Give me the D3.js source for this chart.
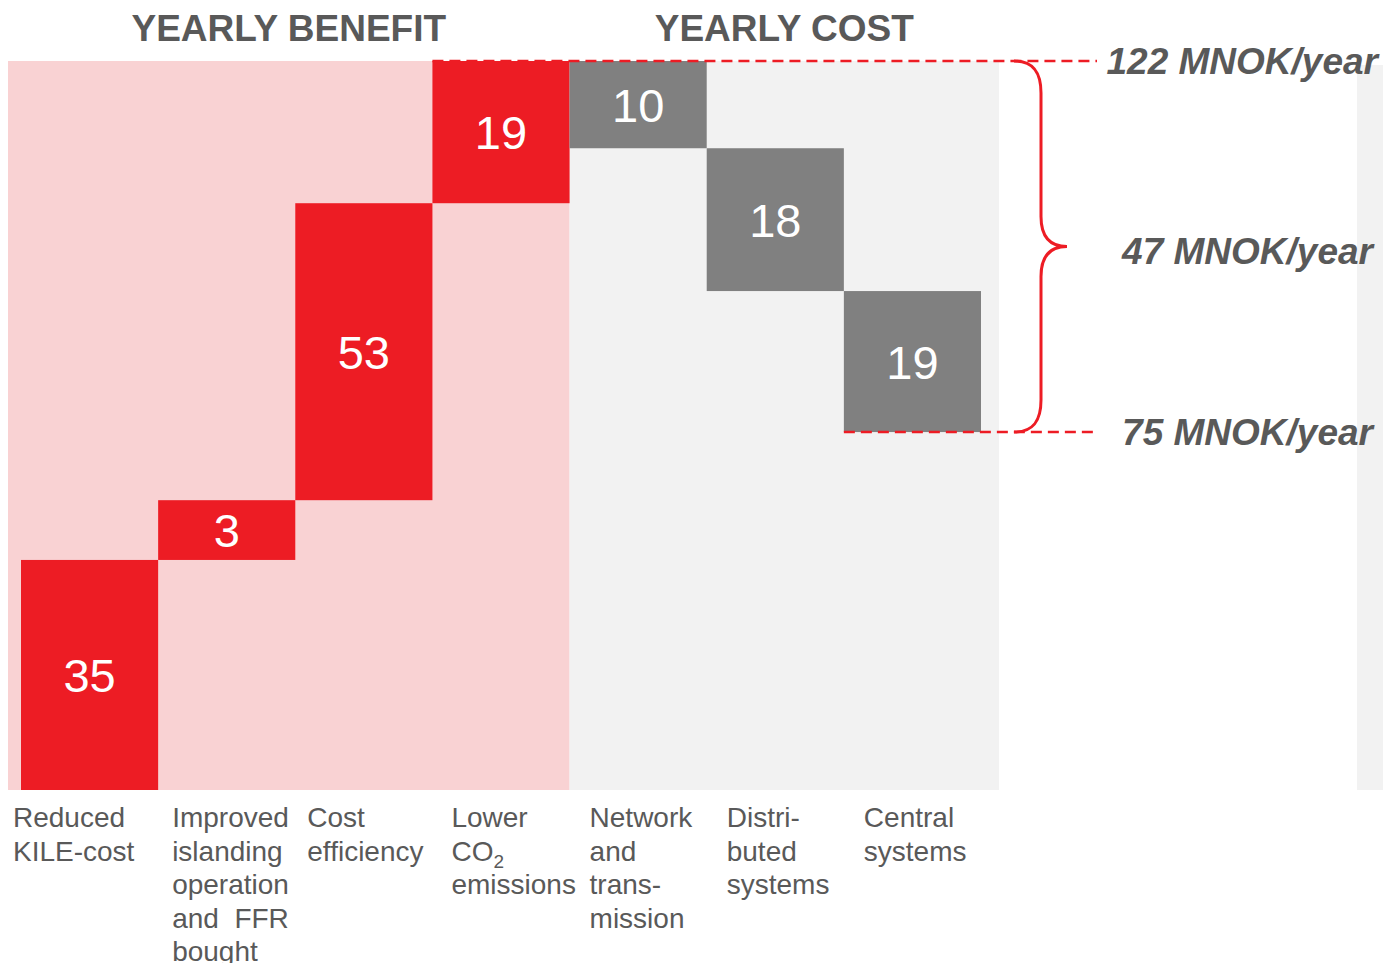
<!DOCTYPE html>
<html>
<head>
<meta charset="utf-8">
<script src="https://cdn.jsdelivr.net/npm/d3@7"></script>
<style>
  html, body { margin: 0; padding: 0; background: #ffffff; }
  svg { display: block; font-family: "Liberation Sans", Arial, sans-serif; }
</style>
</head>
<body>
<svg id="chart" width="1383" height="963"></svg>
<script>
// ---------------- data ----------------
const categories = ["Reduced KILE-cost", "Improved islanding operation and FFR bought",
  "Cost efficiency", "Lower CO2 emissions", "Network and transmission",
  "Distributed systems", "Central systems"];
const categoryLines = [
  ["Reduced", "KILE-cost"],
  ["Improved", "islanding", "operation", "and\u00a0\u00a0FFR", "bought"],
  ["Cost", "efficiency"],
  ["Lower", "CO|2", "emissions"],
  ["Network", "and", "trans-", "mission"],
  ["Distri-", "buted", "systems"],
  ["Central", "systems"]
];
const groups = ["benefit", "benefit", "benefit", "benefit", "cost", "cost", "cost"];
const valueLabels = [35, 3, 53, 19, 10, 18, 19];
// bar sizes as drawn in the (schematic) source graphic, in MNOK-scale units
const drawnSize = [38.5, 10.0, 49.7, 23.8, 14.6, 23.9, 23.6];
const sectionTitles = ["YEARLY BENEFIT", "YEARLY COST"];
const totalLabels = ["122 MNOK/year", "47 MNOK/year", "75 MNOK/year"];

// ---------------- layout ----------------
const W = 1383, H = 963;
const svg = d3.select("#chart");
const red = "#ed1c24", grey = "#808080", pink = "#f9d2d3", light = "#f2f2f2", txt = "#595959";

const x = d3.scaleBand().domain(categories).range([21, 981]).padding(0);

// waterfall levels
let lo = [], hi = [];
let acc = 0;
groups.forEach((g, i) => {
  if (g === "benefit") { lo[i] = acc; acc += drawnSize[i]; hi[i] = acc; }
});
const topLevel = acc;
groups.forEach((g, i) => {
  if (g === "cost") { hi[i] = acc; acc -= drawnSize[i]; lo[i] = acc; }
});
const bottomLevel = acc;

const y = d3.scaleLinear().domain([0, topLevel]).range([790, 61]);

const firstCost = groups.indexOf("cost");
const xBenefitStart = x(categories[0]) - 13;
const xCostStart = x(categories[firstCost]);
const xCostEnd = x(categories[categories.length - 1]) + x.bandwidth() + 18;

// backgrounds
svg.append("rect").attr("x", xBenefitStart).attr("y", y(topLevel))
  .attr("width", xCostStart - xBenefitStart).attr("height", y(0) - y(topLevel)).attr("fill", pink);
svg.append("rect").attr("x", xCostStart).attr("y", y(topLevel))
  .attr("width", xCostEnd - xCostStart).attr("height", y(0) - y(topLevel)).attr("fill", light);
svg.append("rect").attr("x", 1357).attr("y", 65).attr("width", 26).attr("height", y(0) - 65).attr("fill", light);

// bars
svg.append("g").selectAll("rect").data(categories).join("rect")
  .attr("x", d => x(d))
  .attr("width", x.bandwidth())
  .attr("y", (d, i) => y(hi[i]))
  .attr("height", (d, i) => y(lo[i]) - y(hi[i]))
  .attr("fill", (d, i) => groups[i] === "benefit" ? red : grey);

// value labels
svg.append("g").selectAll("text").data(categories).join("text")
  .attr("x", d => x(d) + x.bandwidth() / 2)
  .attr("y", (d, i) => (y(lo[i]) + y(hi[i])) / 2 + 17)
  .attr("text-anchor", "middle")
  .attr("fill", "#ffffff")
  .attr("font-size", 47)
  .text((d, i) => valueLabels[i]);

// section titles
[[xBenefitStart, xCostStart], [xCostStart, xCostEnd]].forEach((r, i) => {
  svg.append("text").attr("x", (r[0] + r[1]) / 2).attr("y", 41)
    .attr("text-anchor", "middle").attr("fill", txt)
    .attr("font-size", 37).attr("font-weight", "bold")
    .text(sectionTitles[i]);
});

// dashed reference lines
const lineEnd = 1097;
svg.append("line").attr("x1", x(categories[firstCost - 1])).attr("x2", lineEnd)
  .attr("y1", y(topLevel)).attr("y2", y(topLevel))
  .attr("stroke", red).attr("stroke-width", 2.5).attr("stroke-dasharray", "11,6");
svg.append("line").attr("x1", x(categories[categories.length - 1])).attr("x2", lineEnd)
  .attr("y1", y(bottomLevel)).attr("y2", y(bottomLevel))
  .attr("stroke", red).attr("stroke-width", 2.5).attr("stroke-dasharray", "11,6");

// curly brace
const yT = y(topLevel), yB = y(bottomLevel), yM = (yT + yB) / 2;
const bx0 = 1014, bx1 = 1041, bx2 = 1067;
const bracePath = d3.path();
bracePath.moveTo(bx0, yT);
bracePath.bezierCurveTo(bx0 + 20, yT, bx1, yT + 12, bx1, yT + 32);
bracePath.lineTo(bx1, yM - 30);
bracePath.bezierCurveTo(bx1, yM - 8, bx1 + 10, yM, bx2, yM);
bracePath.bezierCurveTo(bx1 + 10, yM, bx1, yM + 8, bx1, yM + 30);
bracePath.lineTo(bx1, yB - 32);
bracePath.bezierCurveTo(bx1, yB - 12, bx0 + 20, yB, bx0, yB);
svg.append("path").attr("d", bracePath.toString())
  .attr("fill", "none").attr("stroke", red).attr("stroke-width", 3);

// total labels
const totalY = [yT + 13, yM + 17, yB + 13];
const totalX = [1378, 1373, 1373];
totalLabels.forEach((t, i) => {
  svg.append("text").attr("x", totalX[i]).attr("y", totalY[i])
    .attr("text-anchor", "end").attr("fill", txt)
    .attr("font-size", 37).attr("font-weight", "bold").attr("font-style", "italic")
    .text(t);
});

// category labels
const labelDx = [-8, 14, 12, 19, 20, 20, 20];
const lineH = 33.5;
categories.forEach((c, i) => {
  const t = svg.append("text").attr("fill", txt).attr("font-size", 28);
  categoryLines[i].forEach((ln, j) => {
    const yy = 827 + j * lineH;
    const xx = x(c) + labelDx[i];
    if (ln.includes("|")) {
      const [main, sub] = ln.split("|");
      t.append("tspan").attr("x", xx).attr("y", yy).text(main);
      t.append("tspan").attr("dy", 7).attr("font-size", 19).text(sub);
    } else {
      t.append("tspan").attr("x", xx).attr("y", yy).text(ln);
    }
  });
});
</script>
</body>
</html>
